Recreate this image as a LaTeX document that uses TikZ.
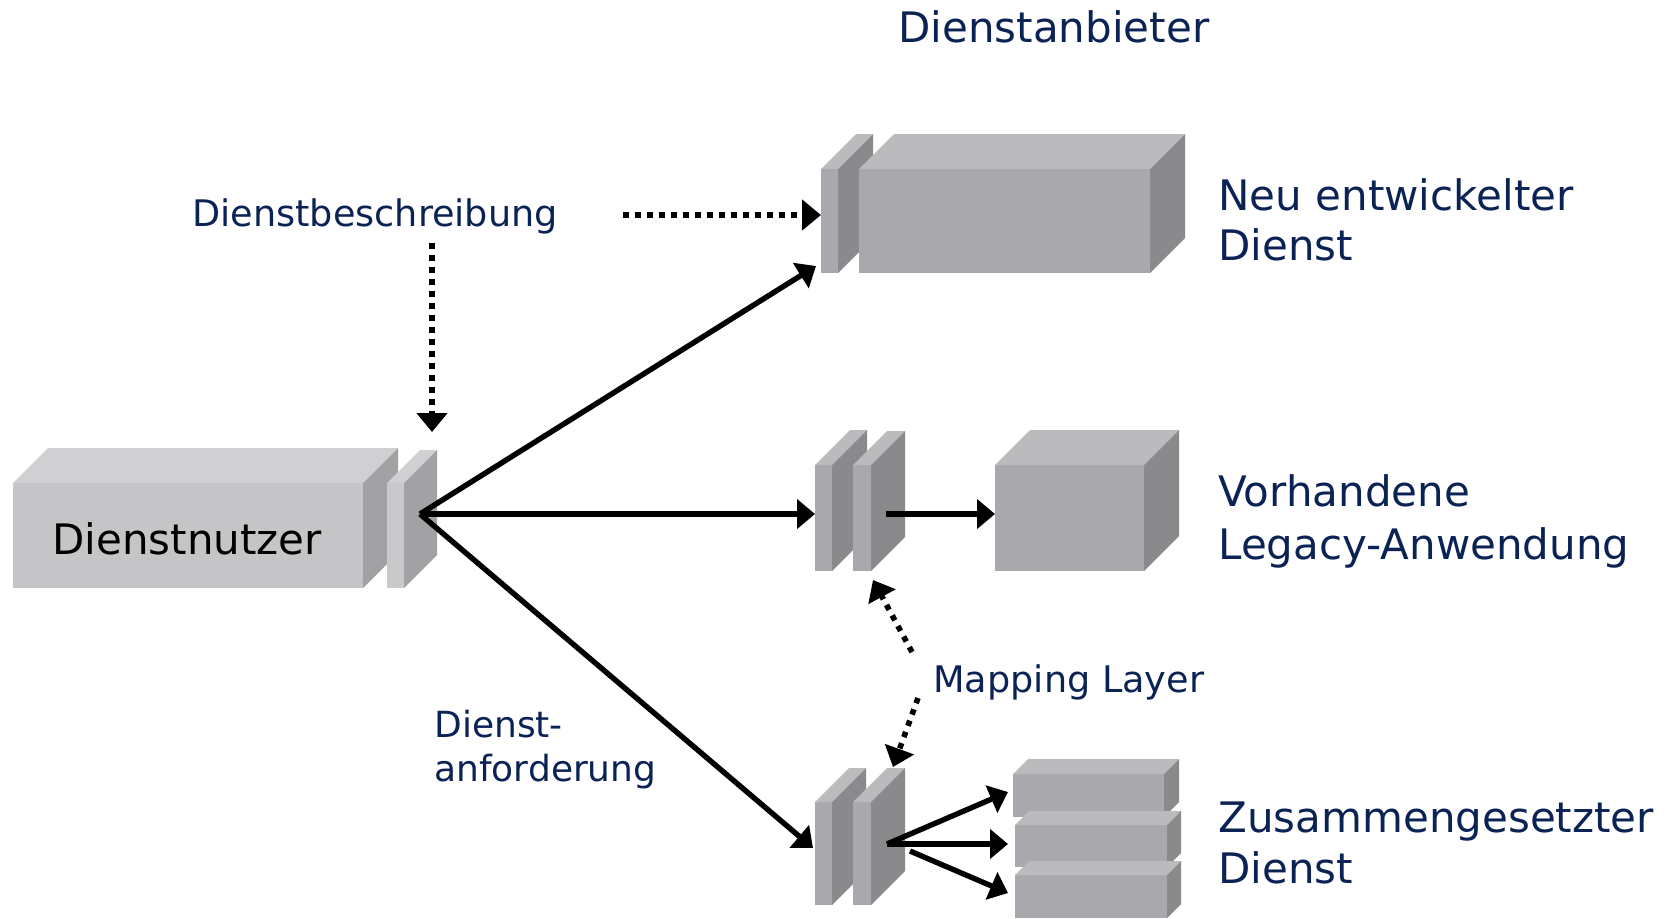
\documentclass[tikz,border=0pt]{standalone}
\usepackage{fontspec}
\setmainfont{DejaVu Sans}
\usetikzlibrary{arrows.meta}
\definecolor{navy}{HTML}{0B2255}
\definecolor{cfront}{HTML}{C5C5C7}
\definecolor{ctop}{HTML}{D0D0D2}
\definecolor{cside}{HTML}{A2A2A4}
\definecolor{pfront}{HTML}{C9C9CB}
\definecolor{lfront}{HTML}{A9A9AD}
\definecolor{ltop}{HTML}{BBBBBD}
\definecolor{lside}{HTML}{8A8A8C}
\newcommand\mkcube[9]{%
  \node[face,fill=#7,minimum width=#4*0.5pt,minimum height=#5*0.5pt] (#1) at (#2,#3) {};
  \fill[#8] (#1.north west) -- ++(#6,-#6) -- ([shift={(#6,-#6)}]#1.north east) -- (#1.north east) -- cycle;
  \fill[#9] (#1.north east) -- ++(#6,-#6) -- ([shift={(#6,-#6)}]#1.south east) -- (#1.south east) -- cycle;
}
\begin{document}
\begin{tikzpicture}[x=0.5pt,y=-0.5pt,
  face/.style={inner sep=0pt,outer sep=0pt,anchor=north west,draw=none},
  lbl/.style={inner sep=0pt,anchor=base west,text=navy,font=\fontsize{21}{25}\selectfont},
  lblsm/.style={lbl,font=\fontsize{18.3}{22}\selectfont},
  solidarrow/.style={line width=2.7pt,-{Triangle[length=9pt,width=14.5pt]}},
  dotarrow/.style={line width=2.8pt,dash pattern=on 2.8pt off 3.2pt,-{Triangle[length=9.5pt,width=15pt]}}]
\useasboundingbox (0,0) rectangle (1666,918);

% Dienstnutzer
\mkcube{nutzer}{13}{483}{350}{105}{35}{cfront}{ctop}{cside}
\mkcube{np}{387}{483}{17}{105}{33}{pfront}{ctop}{cside}
\node[inner sep=0pt,anchor=base west,font=\fontsize{21}{25}\selectfont] (tnutzer) at (52,554) {Dienstnutzer};

% top row
\mkcube{tp}{821}{169}{17}{104}{35}{lfront}{ltop}{lside}
\mkcube{tbox}{859}{169}{291}{104}{35}{lfront}{ltop}{lside}

% middle row
\mkcube{mp1}{815}{465}{17}{106}{35}{lfront}{ltop}{lside}
\mkcube{mp2}{853}{465}{18}{106}{34}{lfront}{ltop}{lside}
\mkcube{mbox}{995}{465}{149}{106}{35}{lfront}{ltop}{lside}

% bottom row
\mkcube{bp1}{815}{802}{17}{103}{34}{lfront}{ltop}{lside}
\mkcube{bp2}{853}{802}{18}{103}{34}{lfront}{ltop}{lside}
\mkcube{sb1}{1013}{774}{151}{43}{15}{lfront}{ltop}{lside}
\mkcube{sb2}{1015}{825}{152}{42}{14}{lfront}{ltop}{lside}
\mkcube{sb3}{1015}{875}{152}{43}{14}{lfront}{ltop}{lside}

% labels
\node[lbl] (anb) at (898,42) {Dienstanbieter};
\node[lblsm] (besch) at (192,226) {Dienstbeschreibung};
\node[lbl] (neu1) at (1218,210) {Neu entwickelter};
\node[lbl] (neu2) at (1218,260) {Dienst};
\node[lbl] (vor1) at (1218,506) {Vorhandene};
\node[lbl] (vor2) at (1218,559) {Legacy-Anwendung};
\node[lbl] (zus1) at (1218,832) {Zusammengesetzter};
\node[lbl] (zus2) at (1218,883) {Dienst};
\node[lblsm] (map) at (933,692) {Mapping Layer};
\node[lblsm,font=\fontsize{18}{22}\selectfont] (anf1) at (434,737) {Dienst-};
\node[lblsm,font=\fontsize{18}{22}\selectfont] (anf2) at (434,781) {anforderung};

% coordinates
\coordinate (src) at (420,514);
\coordinate (tpin) at (816,266);
\coordinate (bpin) at (813,848);
\coordinate (mout) at (886,514);
\coordinate (bout) at (887,844);
\coordinate (bout3) at (910,851);
\coordinate (s1in) at (1008,792);
\coordinate (s2in) at (1008,844);
\coordinate (s3in) at (1008,893);
\coordinate (dbh) at (623,215);
\coordinate (dbv) at (432,243);
\coordinate (dbvend) at (432,432);
\coordinate (m1t) at (912,652);
\coordinate (m1h) at (873,580);
\coordinate (m2t) at (918,698);
\coordinate (m2h) at (893,767);

% solid connectors
\draw[solidarrow] (src) -- (tpin);
\draw[solidarrow] (src) -- (mp1.west |- src);
\draw[solidarrow] (src) -- (bpin);
\draw[solidarrow] (mout) -- (mbox.west |- mout);
\draw[solidarrow] (bout) -- (s1in);
\draw[solidarrow] (bout) -- (s2in);
\draw[solidarrow] (bout3) -- (s3in);

% dotted connectors
\draw[dotarrow] (dbh) -- (tp.west |- dbh);
\draw[dotarrow] (dbv) -- (dbvend);
\draw[dotarrow] (m1t) -- (m1h);
\draw[dotarrow] (m2t) -- (m2h);
\end{tikzpicture}
\end{document}
